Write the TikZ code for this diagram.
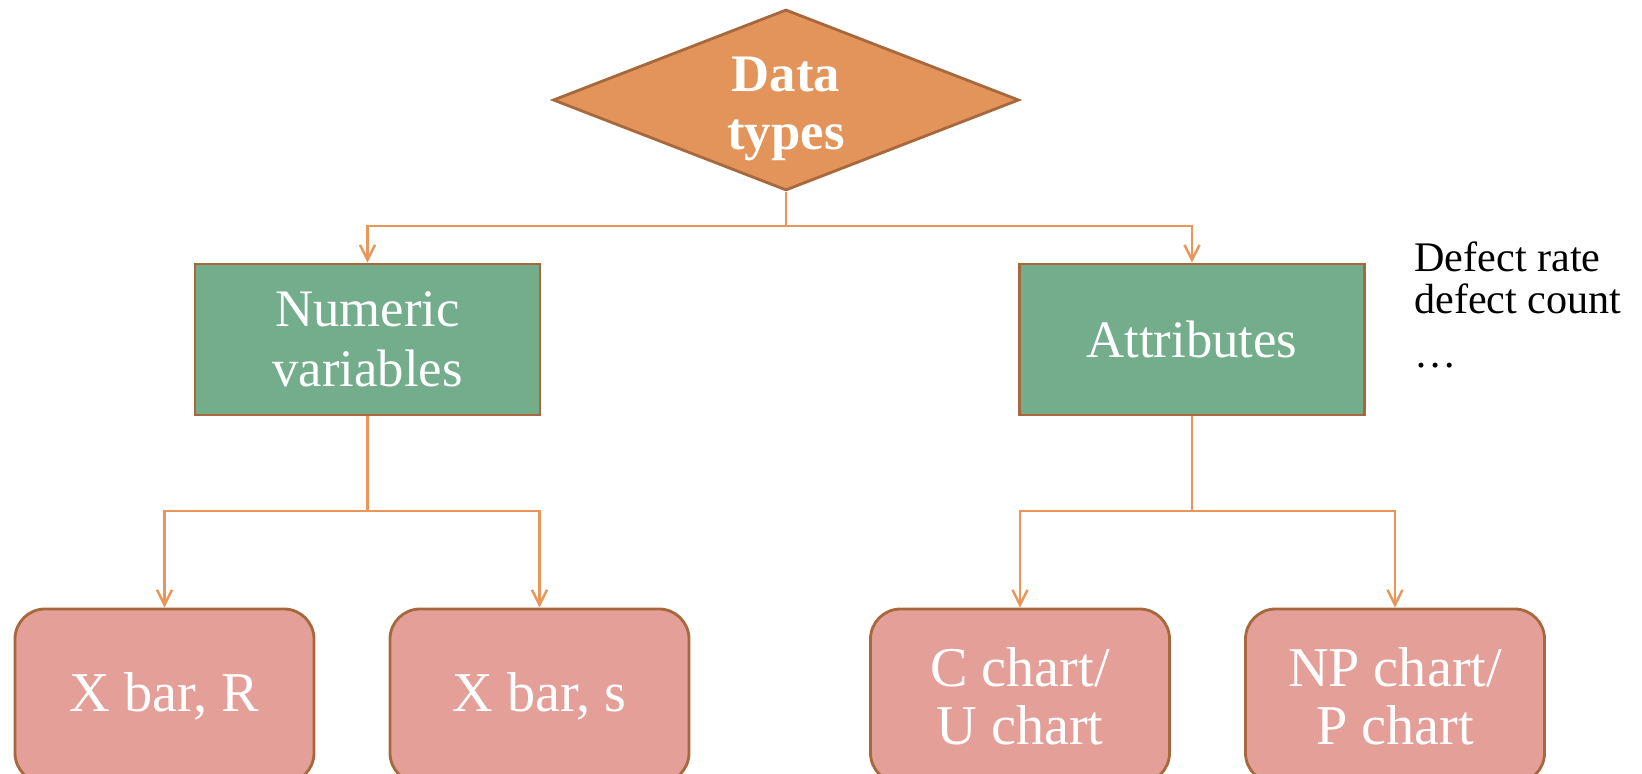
\documentclass[tikz,border=0pt]{standalone}
\usepackage{fontspec}
\setmainfont{Liberation Serif}
\usetikzlibrary{shapes.geometric,arrows.meta}
\definecolor{dtorange}{RGB}{227,148,90}
\definecolor{dtbrown}{RGB}{166,104,60}
\definecolor{dtgreen}{RGB}{115,173,140}
\definecolor{dtpink}{RGB}{227,159,152}
\definecolor{dtline}{RGB}{232,150,90}
\tikzset{
	typebox/.style={draw=dtbrown, line width=1.6pt, fill=dtgreen, text=white,
		minimum width=6.9cm, minimum height=3.02cm, align=center,
		font=\fontsize{30}{34}\selectfont},
	chartbox/.style={draw=dtbrown, line width=1.6pt, fill=dtpink, text=white,
		rounded corners=0.6cm, minimum width=5.98cm, minimum height=3.48cm,
		align=center, font=\fontsize{32}{33}\selectfont},
	link/.style={draw=dtline, line width=1.4pt,
		-{Straight Barb[length=3mm,width=3mm]}}
}
\begin{document}
\begin{tikzpicture}
			\useasboundingbox (0,0) rectangle (32.84,15.48);

			% Top decision
			\node[diamond, aspect=2.57, draw=dtbrown, line width=1.6pt, fill=dtorange,
				text=white, inner sep=0pt, minimum width=9.32cm, minimum height=3.62cm,
				align=center, text height=63pt, font=\bfseries\fontsize{30}{33}\selectfont]
				(types) at (15.72,13.48) {Data\\types};

			% Two kinds of data
			\node[typebox] (num) at (7.35,8.69) {Numeric\\variables};
			\node[typebox] (attr) at (23.84,8.69) {Attributes};

			% Charts
			\node[chartbox] (xr) at (3.29,1.56) {X bar, R};
			\node[chartbox] (xs) at (10.79,1.56) {X bar, s};
			\node[chartbox] (cu) at (20.40,1.56) {C chart/\\U chart};
			\node[chartbox] (np) at (27.90,1.56) {NP chart/\\P chart};

			% Note on attributes
			\node[anchor=north west, inner sep=0pt, align=left,
				font=\fontsize{24}{24}\selectfont]
				(note) at (28.28,10.66) {Defect rate\\defect count\\[7pt]\ldots};

			% Branch points
			\coordinate (busTop) at (15.72,10.96);
			\coordinate (busNum) at (7.35,5.26);
			\coordinate (busAttr) at (23.84,5.26);

			% Connectors
			\draw[link] (types.south) -- (busTop) -| (num.north);
			\draw[link] (types.south) -- (busTop) -| (attr.north);
			\draw[link] (num.south) -- (busNum) -| (xr.north);
			\draw[link] (num.south) -- (busNum) -| (xs.north);
			\draw[link] (attr.south) -- (busAttr) -| (cu.north);
			\draw[link] (attr.south) -- (busAttr) -| (np.north);
		\end{tikzpicture}
\end{document}
